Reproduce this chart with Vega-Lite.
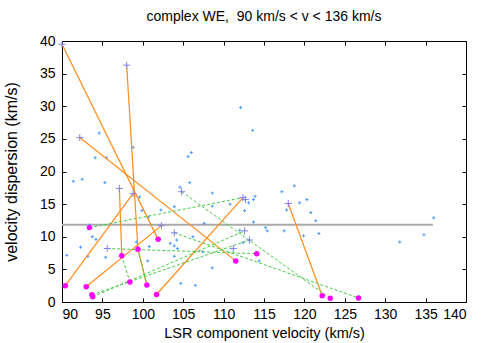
{
  "$schema": "https://vega.github.io/schema/vega-lite/v6.json",
  "width": 404,
  "height": 261,
  "padding": {"left": 62, "top": 41, "right": 25, "bottom": 41},
  "autosize": {"type": "none"},
  "background": "white",
  "config": {
    "view": {"stroke": "black", "strokeWidth": 1},
    "font": "Liberation Sans",
    "axis": {"grid": false, "domain": false, "tickColor": "black", "tickSize": -4, "labelFontSize": 14, "labelColor": "black", "titleFontSize": 14.5, "titleFontWeight": "normal", "titleColor": "black", "labelFont": "Liberation Sans", "titleFont": "Liberation Sans"}
  },
  "title": {"text": "complex WE,\u00a0 90 km/s < v < 136 km/s", "fontSize": 14, "fontWeight": "normal", "font": "Liberation Sans", "color": "black", "offset": 10},
  "datasets": {
    "small": [
      {"x": 94.6, "y": 25.9}, {"x": 94.1, "y": 22.1}, {"x": 95.5, "y": 22.1}, {"x": 98.8, "y": 23.7},
      {"x": 105.6, "y": 22.3}, {"x": 106.0, "y": 22.9}, {"x": 112.1, "y": 29.8}, {"x": 113.6, "y": 26.3},
      {"x": 91.4, "y": 18.5}, {"x": 92.5, "y": 18.8}, {"x": 95.3, "y": 18.3}, {"x": 99.6, "y": 16.1},
      {"x": 99.9, "y": 14.0}, {"x": 100.7, "y": 13.0}, {"x": 93.75, "y": 10.0}, {"x": 94.2, "y": 9.6},
      {"x": 92.3, "y": 8.4}, {"x": 90.6, "y": 7.15}, {"x": 93.2, "y": 7.0}, {"x": 95.4, "y": 6.85},
      {"x": 99.2, "y": 9.2}, {"x": 100.8, "y": 8.5}, {"x": 100.6, "y": 6.3}, {"x": 93.4, "y": 11.8},
      {"x": 105.8, "y": 18.3}, {"x": 104.6, "y": 17.6}, {"x": 108.6, "y": 16.7}, {"x": 108.6, "y": 14.7},
      {"x": 102.25, "y": 14.1}, {"x": 103.9, "y": 14.6}, {"x": 110.8, "y": 15.0}, {"x": 112.6, "y": 14.0},
      {"x": 113.1, "y": 15.2}, {"x": 107.6, "y": 12.05}, {"x": 112.0, "y": 11.0}, {"x": 104.2, "y": 9.5},
      {"x": 103.4, "y": 9.0}, {"x": 106.2, "y": 10.0}, {"x": 104.3, "y": 8.2}, {"x": 103.9, "y": 7.0},
      {"x": 107.4, "y": 7.7}, {"x": 112.4, "y": 9.1}, {"x": 108.6, "y": 5.25}, {"x": 104.7, "y": 2.85},
      {"x": 106.5, "y": 2.55}, {"x": 117.2, "y": 16.9}, {"x": 118.75, "y": 17.8}, {"x": 119.4, "y": 15.2},
      {"x": 120.3, "y": 15.7}, {"x": 120.8, "y": 13.7}, {"x": 121.4, "y": 12.45}, {"x": 117.8, "y": 14.1},
      {"x": 113.9, "y": 16.2}, {"x": 113.7, "y": 15.7}, {"x": 113.7, "y": 12.25}, {"x": 115.2, "y": 11.4},
      {"x": 115.4, "y": 10.9}, {"x": 117.5, "y": 10.9}, {"x": 119.9, "y": 10.15}, {"x": 121.8, "y": 10.5},
      {"x": 114.4, "y": 6.3}, {"x": 136.0, "y": 12.9}, {"x": 134.8, "y": 10.3}, {"x": 131.8, "y": 9.2},
      {"x": 103.9, "y": 8.6}
    ],
    "big": [
      {"x": 90.0, "y": 39.5}, {"x": 92.2, "y": 25.2}, {"x": 98.0, "y": 36.3}, {"x": 97.1, "y": 17.4},
      {"x": 98.8, "y": 16.6}, {"x": 95.6, "y": 8.2}, {"x": 104.8, "y": 16.9}, {"x": 112.4, "y": 16.0},
      {"x": 112.7, "y": 15.7}, {"x": 102.3, "y": 11.7}, {"x": 103.9, "y": 10.6}, {"x": 111.2, "y": 8.2},
      {"x": 112.6, "y": 10.9}, {"x": 113.2, "y": 9.5}, {"x": 118.0, "y": 15.1}
    ],
    "circles": [
      {"x": 90.4, "y": 2.5}, {"x": 93.0, "y": 2.35}, {"x": 93.8, "y": 0.8}, {"x": 93.7, "y": 1.1},
      {"x": 93.4, "y": 11.4}, {"x": 97.4, "y": 7.1}, {"x": 99.4, "y": 8.1}, {"x": 98.4, "y": 3.06},
      {"x": 100.5, "y": 2.6}, {"x": 101.9, "y": 9.6}, {"x": 101.7, "y": 1.15}, {"x": 111.5, "y": 6.3},
      {"x": 114.1, "y": 7.4}, {"x": 122.2, "y": 0.95}, {"x": 123.2, "y": 0.56}, {"x": 126.7, "y": 0.62}
    ],
    "orange": [
      {"s": "a", "x": 90.0, "y": 39.5}, {"s": "a", "x": 101.9, "y": 9.6},
      {"s": "b", "x": 92.2, "y": 25.2}, {"s": "b", "x": 111.5, "y": 6.3},
      {"s": "c", "x": 98.0, "y": 36.3}, {"s": "c", "x": 99.4, "y": 8.1},
      {"s": "d", "x": 97.1, "y": 17.4}, {"s": "d", "x": 97.4, "y": 7.1},
      {"s": "e", "x": 98.8, "y": 16.6}, {"s": "e", "x": 90.4, "y": 2.5},
      {"s": "f", "x": 93.0, "y": 2.35}, {"s": "f", "x": 102.3, "y": 11.7},
      {"s": "g", "x": 101.7, "y": 1.15}, {"s": "g", "x": 112.4, "y": 16.0},
      {"s": "h", "x": 118.0, "y": 15.1}, {"s": "h", "x": 122.2, "y": 0.95},
      {"s": "i", "x": 99.4, "y": 8.1}, {"s": "i", "x": 100.5, "y": 2.6}
    ],
    "green": [
      {"s": "a", "x": 93.4, "y": 11.4}, {"s": "a", "x": 112.4, "y": 16.0},
      {"s": "b", "x": 95.6, "y": 8.2}, {"s": "b", "x": 114.1, "y": 7.4},
      {"s": "c", "x": 93.8, "y": 0.8}, {"s": "c", "x": 112.6, "y": 10.9},
      {"s": "d", "x": 93.7, "y": 1.1}, {"s": "d", "x": 113.2, "y": 9.5},
      {"s": "e", "x": 104.8, "y": 16.9}, {"s": "e", "x": 123.2, "y": 0.56},
      {"s": "f", "x": 103.9, "y": 10.6}, {"s": "f", "x": 126.7, "y": 0.62},
      {"s": "g", "x": 97.4, "y": 7.1}, {"s": "g", "x": 98.4, "y": 3.06},
      {"s": "h", "x": 99.4, "y": 8.1}, {"s": "h", "x": 100.5, "y": 2.6}
    ],
    "level": [{"x": 90, "y": 11.85}, {"x": 135.9, "y": 11.85}]
  },
  "resolve": {"axis": {"x": "independent", "y": "independent"}},
  "layer": [
    {
      "data": {"name": "level"},
      "mark": {"type": "line", "color": "#aaaaaa", "strokeWidth": 2},
      "encoding": {
        "x": {"field": "x", "type": "quantitative", "scale": {"domain": [90, 140], "nice": false, "zero": false},
              "axis": {"title": "LSR component velocity (km/s)", "values": [90, 95, 100, 105, 110, 115, 120, 125, 130, 135, 140], "labelPadding": 9, "titlePadding": 5}},
        "y": {"field": "y", "type": "quantitative", "scale": {"domain": [0, 40], "nice": false},
              "axis": {"title": "velocity dispersion (km/s)", "titleFontSize": 16, "values": [0, 5, 10, 15, 20, 25, 30, 35, 40], "labelPadding": 11, "titlePadding": 20}}
      }
    },
    {
      "data": {"name": "small"},
      "mark": {"type": "point", "shape": "M-1,0L1,0M0,-1L0,1", "filled": false, "color": "#4499ff", "strokeWidth": 1, "size": 9, "opacity": 1},
      "encoding": {
        "x": {"field": "x", "type": "quantitative", "axis": {"orient": "top", "labels": false, "title": null, "values": [90, 95, 100, 105, 110, 115, 120, 125, 130, 135, 140]}},
        "y": {"field": "y", "type": "quantitative", "axis": {"orient": "right", "labels": false, "title": null, "values": [0, 5, 10, 15, 20, 25, 30, 35, 40]}}
      }
    },
    {
      "data": {"name": "orange"},
      "mark": {"type": "line", "color": "#ff8c1a", "strokeWidth": 1.2},
      "encoding": {
        "x": {"field": "x", "type": "quantitative", "axis": null},
        "y": {"field": "y", "type": "quantitative", "axis": null},
        "detail": {"field": "s"}
      }
    },
    {
      "data": {"name": "green"},
      "mark": {"type": "line", "color": "#44cc44", "strokeWidth": 1, "strokeDash": [3, 2]},
      "encoding": {
        "x": {"field": "x", "type": "quantitative", "axis": null},
        "y": {"field": "y", "type": "quantitative", "axis": null},
        "detail": {"field": "s"}
      }
    },
    {
      "data": {"name": "big"},
      "mark": {"type": "point", "shape": "M-1,0L1,0M0,-1L0,1", "filled": false, "color": "#8080ee", "strokeWidth": 1, "size": 49, "opacity": 1},
      "encoding": {
        "x": {"field": "x", "type": "quantitative", "axis": null},
        "y": {"field": "y", "type": "quantitative", "axis": null}
      }
    },
    {
      "data": {"name": "circles"},
      "mark": {"type": "circle", "color": "#ff00ff", "size": 30, "opacity": 1},
      "encoding": {
        "x": {"field": "x", "type": "quantitative", "axis": null},
        "y": {"field": "y", "type": "quantitative", "axis": null}
      }
    }
  ]
}
